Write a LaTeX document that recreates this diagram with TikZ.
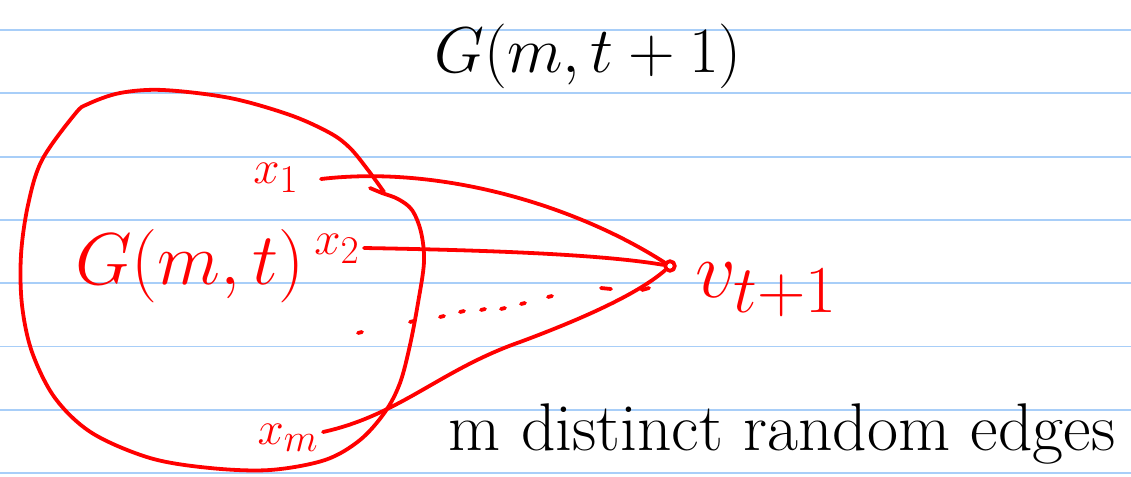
\documentclass[tikz,border=0pt]{standalone}
\usepackage{amsmath}
\usetikzlibrary{positioning}
\definecolor{notered}{RGB}{255,0,0}
\definecolor{ruleblue}{RGB}{168,206,248}

\begin{document}
\begin{tikzpicture}[x=0.25mm,y=-0.25mm,line cap=round,line join=round,
  pen/.style={notered,line width=2.7pt},
  ruling/.style={ruleblue,line width=1.3pt},
  vertex/.style={circle,draw=notered,line width=2.7pt,inner sep=0pt,minimum size=2.4mm},
  label/.style={font=\Huge,text=notered,inner sep=1pt}]
 \useasboundingbox (0,0) rectangle (1131,476);
 \fill[white] (0,0) rectangle (1131,476);
 % ruled paper
 \foreach \k in {0,...,7}
  \draw[ruling] (0,{30+63.3*\k}) -- (1131,{30+63.3*\k});
 % headings
 \node[font=\Huge,scale=1.85] (big) at (588,56) {$G(m,t+1)$};
 \node[label,scale=2.1] (small) at (190,266) {$G(m,t)$};
 % the old graph
 \draw[pen] plot[smooth,tension=0.55] coordinates {
  (384,192) (368,170) (350,148) (330,133) (290,115) (230,98) (163,90)
  (120,93) (88,104) (75,114) (42,160) (28,205) (21,255) (22,305)
  (32,352) (55,398) (92,433) (150,458) (210,468) (270,470) (325,460)
  (360,440) (385,412) (400,383) (410,345) (418,303) (424,262)
  (421,232) (412,210) (398,199) (382,193) (370,188)};
 % new vertex and its end points
 \node[vertex] (v) at (670,266) {};
 \node[label,scale=2.3,anchor=base west] (vlab) at (692,297) {$v_{t+1}$};
 \node[label,scale=1.35] (lx1) at (276,178) {$x_1$};
 \node[label,scale=1.35] (lx2) at (337,249) {$x_2$};
 \node[label,scale=1.35] (lxm) at (288,438) {$x_m$};
 \coordinate (x1) at (321,179);
 \coordinate (x2) at (364,248);
 \coordinate (xm) at (323,432);
 % random edges
 \draw[pen] (x1) .. controls (440,165) and (575,205) .. (v);
 \draw[pen] (x2) .. controls (480,250) and (600,254) .. (v);
 \draw[pen] (xm) .. controls (400,415) and (440,370) .. (520,342)
  .. controls (590,316) and (640,292) .. (v);
 % the dots
 \foreach \a/\b in {358/333,410/322,440/317,460/312,481/310,501/309,521/304,548/297}
  \draw[pen] (\a,\b) -- ++(4,-1);
 \draw[pen] (601,288) -- ++(10,1);
 \draw[pen] (642,290) -- ++(7,-2);
 \node[font=\fontsize{48}{52}\selectfont] (note) at (782,434) {m distinct random edges};
\end{tikzpicture}
\end{document}
